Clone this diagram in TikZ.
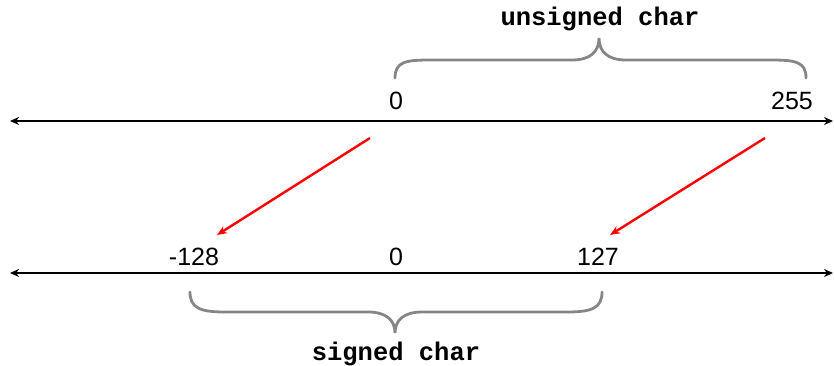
\documentclass[tikz,border=0pt]{standalone}
\usepackage{fontspec}
\setmainfont{Liberation Sans}
\newfontfamily\monobold{Liberation Mono}[BoldFont={* Bold}]
\usetikzlibrary{arrows.meta}
\begin{document}
\begin{tikzpicture}[x=1pt,y=-1pt,
  axis/.style={line width=2.3pt,black,{Stealth[length=9pt,width=8pt]}-{Stealth[length=9pt,width=8pt]}},
  maparrow/.style={line width=2.4pt,red,-{Stealth[length=10pt,width=8pt]}},
  bracestyle/.style={line width=2.8pt,color=gray!95,line cap=round},
  num/.style={font=\fontsize{25}{29}\selectfont,anchor=base,inner sep=0pt},
  typ/.style={font=\monobold\bfseries\fontsize{25.5}{30}\selectfont,anchor=base,inner sep=0pt}]
\useasboundingbox (0,0) rectangle (834,366);
% axes
\coordinate (t1) at (10,121);
\coordinate (t2) at (833,121);
\coordinate (b1) at (10,273);
\coordinate (b2) at (833,273);
\draw[axis] (t1) -- (t2);
\draw[axis] (b1) -- (b2);
% labels
\node[num] (u0) at (396,110) {0};
\node[num] (u255) at (792,110) {255};
\node[num] (sm128) at (194,265) {-128};
\node[num] (s0) at (396,265) {0};
\node[num] (s127) at (598,265) {127};
\node[typ] (ulab) at (600,26) {unsigned char};
\node[typ] (slab) at (396,360) {signed char};
% mapping arrows
\coordinate (a1s) at (370,138);
\coordinate (a1e) at (217,235);
\coordinate (a2s) at (765,138);
\coordinate (a2e) at (610,235);
\draw[maparrow] (a1s) -- (a1e);
\draw[maparrow] (a2s) -- (a2e);
% top brace
\draw[bracestyle] (395,78) .. controls (395,62) and (405,60) .. (430,60)
  -- (572,60) .. controls (590,60) and (599,52) .. (599,38)
  .. controls (599,52) and (608,60) .. (626,60)
  -- (771,60) .. controls (796,60) and (806,62) .. (806,78);
% bottom brace
\draw[bracestyle] (190,292) .. controls (190,308) and (200,312) .. (225,312)
  -- (368,312) .. controls (386,312) and (395,320) .. (395,333)
  .. controls (395,320) and (404,312) .. (422,312)
  -- (567,312) .. controls (592,312) and (602,308) .. (602,292);
\end{tikzpicture}
\end{document}
